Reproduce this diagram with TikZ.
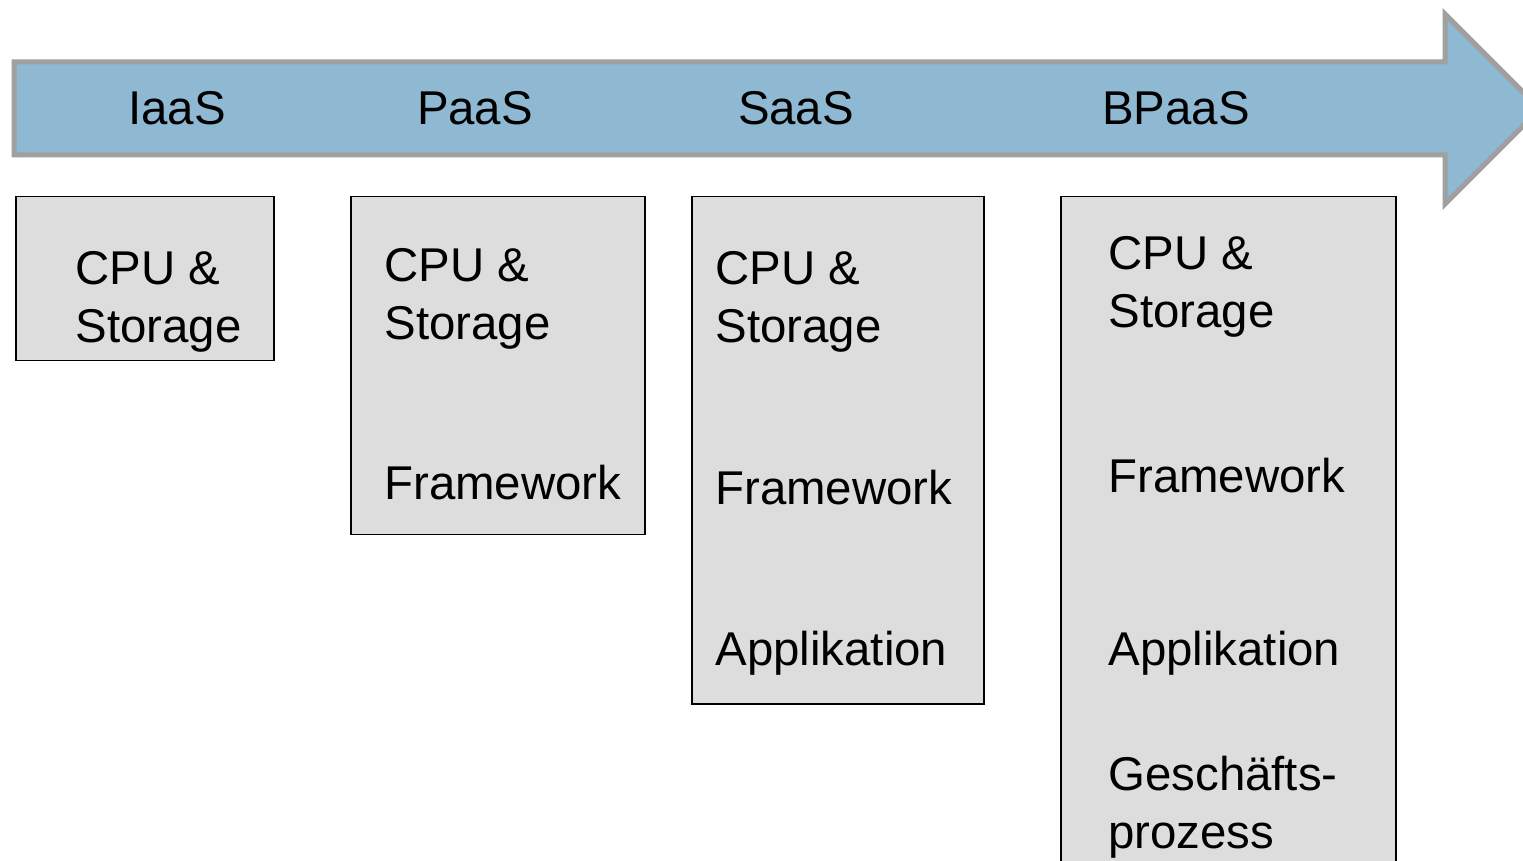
\documentclass[tikz,border=0pt]{standalone}
\usepackage{fontspec}
\setmainfont{Liberation Sans}
\usepackage{tikz}
\usetikzlibrary{positioning}
\definecolor{cloudblue}{HTML}{8FB8D3}
\definecolor{cloudgray}{HTML}{A0A0A0}
\definecolor{layergray}{HTML}{DDDDDD}

\begin{document}
\begin{tikzpicture}[
  x=0.5pt, y=-0.5pt,
  phase/.style={anchor=base, inner sep=0pt, font=\fontsize{23.7}{29}\selectfont},
  layer/.style={draw=black, line width=0.75pt, fill=layergray, anchor=north west, inner sep=0pt},
  label/.style={anchor=base west, inner sep=0pt, align=left, font=\fontsize{23.7}{29}\selectfont}
]
\clip (0,0) rectangle (1523,861);
% timeline arrow
\draw[draw=cloudgray, fill=cloudblue, line width=2.5pt, line join=miter]
  (14,62) -- (1445,62) -- (1445,14) -- (1540,109) -- (1445,204) -- (1445,155) -- (14,155) -- cycle;
\node[phase] (iaas) at (177,125) {IaaS};
\node[phase] (paas) at (475,125) {PaaS};
\node[phase] (saas) at (796,125) {SaaS};
\node[phase] (bpaas) at (1176,125) {BPaaS};
% service stacks (base = last line)
\node[layer, minimum width=129pt, minimum height=82pt] (iaasbox) at (15,196) {};
\node[layer, minimum width=147pt, minimum height=169pt] (paasbox) at (350,196) {};
\node[layer, minimum width=146pt, minimum height=253.5pt] (saasbox) at (691,196) {};
\node[layer, minimum width=167.5pt, minimum height=350pt] (bpaasbox) at (1060,196) {};
\node[label] (iaascpu) at (75,343) {CPU \&\\Storage};
\node[label] (paascpu) at (384,340) {CPU \&\\Storage};
\node[label] (paasfw) at (384,500) {Framework};
\node[label] (saascpu) at (715,343) {CPU \&\\Storage};
\node[label] (saasfw) at (715,505) {Framework};
\node[label] (saasapp) at (715,665) {Applikation};
\node[label] (bpaascpu) at (1108,328) {CPU \&\\Storage};
\node[label] (bpaasfw) at (1108,493) {Framework};
\node[label] (bpaasapp) at (1108,665) {Applikation};
\node[label] (bpaasproc) at (1108,848) {Geschäfts-\\prozess};
\end{tikzpicture}
\end{document}
